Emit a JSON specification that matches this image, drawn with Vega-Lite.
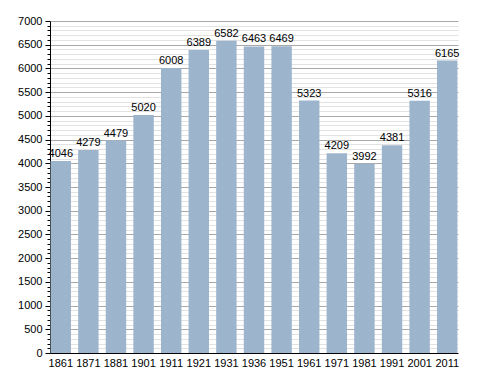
{
  "$schema": "https://vega.github.io/schema/vega-lite/v6.json",
  "width": 408,
  "height": 332,
  "autosize": "none",
  "padding": {"left": 50, "top": 21, "right": 30, "bottom": 20},
  "background": "white",
  "config": {"view": {"stroke": null}, "font": "Liberation Sans"},
  "data": {"values": [
    {"year": "1861", "pop": 4046},
    {"year": "1871", "pop": 4279},
    {"year": "1881", "pop": 4479},
    {"year": "1901", "pop": 5020},
    {"year": "1911", "pop": 6008},
    {"year": "1921", "pop": 6389},
    {"year": "1931", "pop": 6582},
    {"year": "1936", "pop": 6463},
    {"year": "1951", "pop": 6469},
    {"year": "1961", "pop": 5323},
    {"year": "1971", "pop": 4209},
    {"year": "1981", "pop": 3992},
    {"year": "1991", "pop": 4381},
    {"year": "2001", "pop": 5316},
    {"year": "2011", "pop": 6165}
  ]},
  "encoding": {
    "x": {"field": "year", "type": "ordinal", "sort": null,
      "scale": {"paddingInner": 0.26, "paddingOuter": 0.02},
      "axis": {"title": null, "labelAngle": 0, "labelFontSize": 11, "labelColor": "#000", "domainColor": "#000", "ticks": false, "labelPadding": 4}},
    "y": {"field": "pop", "type": "quantitative",
      "scale": {"domain": [0, 7000], "nice": false},
      "axis": {"title": null, "format": "d",
        "values": [0,100,200,300,400,500,600,700,800,900,1000,1100,1200,1300,1400,1500,1600,1700,1800,1900,2000,2100,2200,2300,2400,2500,2600,2700,2800,2900,3000,3100,3200,3300,3400,3500,3600,3700,3800,3900,4000,4100,4200,4300,4400,4500,4600,4700,4800,4900,5000,5100,5200,5300,5400,5500,5600,5700,5800,5900,6000,6100,6200,6300,6400,6500,6600,6700,6800,6900,7000],
        "labelExpr": "datum.value % 500 === 0 ? datum.label : ''",
        "labelFontSize": 11, "labelColor": "#000", "labelPadding": 3,
        "domainColor": "#000", "tickColor": "#000",
        "tickSize": {"condition": {"test": "datum.value % 500 === 0", "value": 5}, "value": 3},
        "gridColor": {"condition": {"test": "datum.value % 500 === 0", "value": "#a8a8a8"}, "value": "#e2e2e2"},
        "labelOverlap": false}}
  },
  "layer": [
    {"mark": {"type": "bar", "color": "#9db4cd"}},
    {"mark": {"type": "text", "dy": -7, "fontSize": 11, "color": "#000"},
     "encoding": {"text": {"field": "pop", "type": "quantitative", "format": "d"}}}
  ]
}
